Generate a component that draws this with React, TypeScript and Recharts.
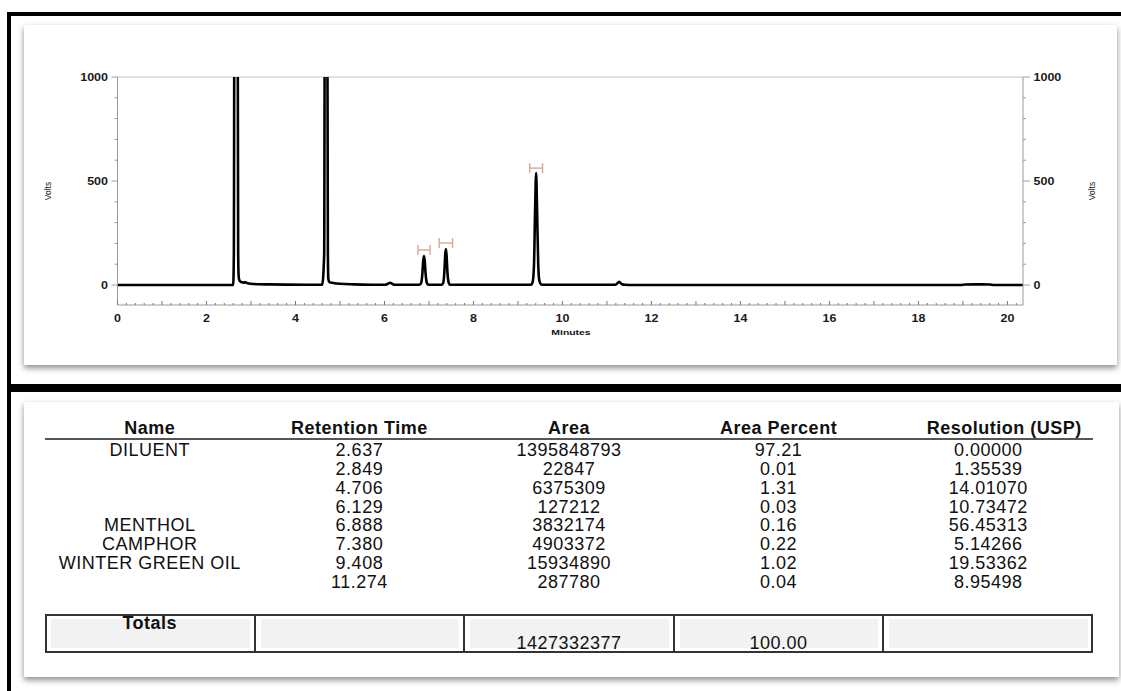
import React from 'react';
import { ComposedChart, Line, XAxis, YAxis, Scatter, ErrorBar, ReferenceLine } from 'recharts';

// Chromatogram trace (minutes, volts)
const traceTime = [
  0, 2.6, 2.615, 2.628, 2.7, 2.712, 2.722, 2.735, 2.76, 2.8, 2.84, 2.87, 2.89, 2.93, 3.0, 3.15, 3.4, 3.8, 4.3,
  4.6, 4.645, 4.66, 4.715, 4.728, 4.738, 4.76, 4.85, 5.0, 5.3, 5.7,
  6.0, 6.06, 6.1, 6.13, 6.16, 6.2, 6.26,
  6.78, 6.82, 6.85, 6.872, 6.888, 6.905, 6.925, 6.95, 6.98,
  7.28, 7.32, 7.345, 7.365, 7.38, 7.395, 7.415, 7.44, 7.47,
  9.29, 9.33, 9.36, 9.385, 9.408, 9.43, 9.455, 9.48, 9.52, 9.56,
  11.18, 11.22, 11.25, 11.274, 11.3, 11.34, 11.4, 11.6,
  18.95, 19.05, 19.3, 19.6, 19.7, 20.35,
];
const traceVolts = [
  0, 0, 150, 1400, 1400, 150, 45, 25, 17, 13, 11, 14, 12, 8, 6, 4, 3, 2, 1.5,
  1.5, 150, 1400, 1400, 150, 30, 14, 10, 6, 3, 1.5,
  1.5, 4, 9, 11, 8, 3, 1,
  1, 8, 50, 118, 139, 115, 52, 12, 2,
  1, 10, 60, 145, 173, 143, 62, 14, 2,
  1, 14, 95, 360, 538, 355, 100, 22, 3, 1,
  1, 5, 12, 15, 11, 4, 1.5, 0.5,
  0.5, 2.5, 3, 2.5, 0.5, 0.5,
];

// Integration markers above the named peaks
const markTime = [6.888, 7.38, 9.408];
const markVolts = [168, 202, 562];
const markHalfWidth = [0.135, 0.15, 0.145];

// Axis ticks
const xTickLabels = [0, 2, 4, 6, 8, 10, 12, 14, 16, 18, 20];
const yTickLabels = [0, 500, 1000];
const yMinorTicks = [0, 100, 200, 300, 400, 500, 600, 700, 800, 900, 1000];
const xMinorTicks = Array.from({ length: 102 }, (_, i) => Math.round(i * 2) / 10);

// Peak table
const tableHeaders = ['Name', 'Retention Time', 'Area', 'Area Percent', 'Resolution (USP)'];
const peakNames = ['DILUENT', '', '', '', 'MENTHOL', 'CAMPHOR', 'WINTER GREEN OIL', ''];
const retentionTimes = ['2.637', '2.849', '4.706', '6.129', '6.888', '7.380', '9.408', '11.274'];
const areas = ['1395848793', '22847', '6375309', '127212', '3832174', '4903372', '15934890', '287780'];
const areaPercents = ['97.21', '0.01', '1.31', '0.03', '0.16', '0.22', '1.02', '0.04'];
const resolutions = ['0.00000', '1.35539', '14.01070', '10.73472', '56.45313', '5.14266', '19.53362', '8.95498'];
const totalsRow = ['Totals', '', '1427332377', '100.00', ''];

const traceData = traceTime.map((t, i) => ({ t, v: traceVolts[i] }));
const markData = markTime.map((t, i) => ({ t, v: markVolts[i], err: markHalfWidth[i] }));

const FONT = '"Liberation Sans", Arial, sans-serif';
const AXIS_GRAY = '#9a9a9a';

const XTick = (props: any) => {
  const { x, y, payload } = props;
  const v = payload.value as number;
  const isInt = Math.abs(v - Math.round(v)) < 1e-6;
  const labeled = isInt && xTickLabels.includes(Math.round(v));
  return (
    <g>
      <line x1={x} x2={x} y1={y} y2={y - (isInt ? 4 : 2)} stroke="#777" strokeWidth={1} />
      {labeled && (
        <text
          transform={`translate(${x},${y + 16.5}) scale(1.25,1)`}
          textAnchor="middle"
          fontFamily={FONT}
          fontSize={10}
          fontWeight="bold"
          fill="#1a1a1a"
        >
          {v}
        </text>
      )}
    </g>
  );
};

const LeftTick = (props: any) => {
  const { x, y, payload } = props;
  const v = payload.value as number;
  const major = yTickLabels.includes(v);
  return (
    <g>
      <line x1={x} x2={x - (major ? 6 : 3)} y1={y} y2={y} stroke={AXIS_GRAY} strokeWidth={1} />
      {major && (
        <text
          transform={`translate(${x - 9.5},${y + 3.6}) scale(1.25,1)`}
          textAnchor="end"
          fontFamily={FONT}
          fontSize={10}
          fontWeight="bold"
          fill="#1a1a1a"
        >
          {v}
        </text>
      )}
    </g>
  );
};

const RightTick = (props: any) => {
  const { x, y, payload } = props;
  const v = payload.value as number;
  const major = yTickLabels.includes(v);
  return (
    <g>
      <line x1={x} x2={x + (major ? 7 : 3)} y1={y} y2={y} stroke={AXIS_GRAY} strokeWidth={1} />
      {major && (
        <text
          transform={`translate(${x + 10.5},${y + 3.6}) scale(1.25,1)`}
          textAnchor="start"
          fontFamily={FONT}
          fontSize={10}
          fontWeight="bold"
          fill="#1a1a1a"
        >
          {v}
        </text>
      )}
    </g>
  );
};

const COL_LEFT = 45;
const COL_W = 209.6;
const ROW0 = 450.3;
const ROW_STEP = 18.75;
const BOX_H = 18.5;

const cellText = (text: string, col: number, centerY: number, bold: boolean, key: string, shift = 0) => (
  <div
    key={key}
    style={{
      position: 'absolute',
      left: COL_LEFT + col * COL_W + shift,
      top: centerY - 8.9,
      width: COL_W,
      height: BOX_H,
      lineHeight: BOX_H + 'px',
      textAlign: 'center',
      fontFamily: FONT,
      fontSize: 18,
      letterSpacing: 0.5,
      fontWeight: bold ? 'bold' : 'normal',
      color: '#111',
      whiteSpace: 'nowrap',
      overflow: 'visible',
    }}
  >
    {text}
  </div>
);

export default function App() {
  const columns = [peakNames, retentionTimes, areas, areaPercents, resolutions];
  return (
    <div style={{ position: 'absolute', left: 0, top: 0, width: 1121, height: 691, background: '#fff', overflow: 'hidden' }}>
      {/* black frame */}
      <div style={{ position: 'absolute', left: 7, top: 12, width: 1114, height: 4, background: '#000' }} />
      <div style={{ position: 'absolute', left: 7, top: 12, width: 4, height: 679, background: '#000' }} />
      <div style={{ position: 'absolute', left: 7, top: 384, width: 1114, height: 8, background: '#000' }} />

      {/* panels */}
      <div style={{ position: 'absolute', left: 24, top: 25, width: 1093, height: 340, background: '#fff', boxShadow: '0 3px 6px rgba(0,0,0,0.45)' }} />
      <div style={{ position: 'absolute', left: 24, top: 402, width: 1095, height: 275, background: '#fff', boxShadow: '0 3px 6px rgba(0,0,0,0.45)' }} />

      {/* chart */}
      <div style={{ position: 'absolute', left: 0, top: 0 }}>
        <ComposedChart
          width={1121}
          height={380}
          data={traceData}
          margin={{ top: 77, right: 38, bottom: 45, left: 57.5 }}
        >
          <XAxis
            dataKey="t"
            type="number"
            domain={[0, 20.35]}
            allowDataOverflow
            ticks={xMinorTicks}
            interval={0}
            tickSize={0}
            tickMargin={0}
            tick={<XTick />}
            axisLine={{ stroke: AXIS_GRAY, strokeWidth: 1 }}
            tickLine={false}
            height={30}
          />
          <YAxis
            yAxisId="left"
            type="number"
            domain={[-96, 1000]}
            allowDataOverflow
            ticks={yMinorTicks}
            interval={0}
            tickSize={0}
            tickMargin={0}
            tick={<LeftTick />}
            tickLine={false}
            axisLine={{ stroke: AXIS_GRAY, strokeWidth: 1 }}
            width={60}
          />
          <YAxis
            yAxisId="right"
            orientation="right"
            type="number"
            domain={[-96, 1000]}
            allowDataOverflow
            ticks={yMinorTicks}
            interval={0}
            tickSize={0}
            tickMargin={0}
            tick={<RightTick />}
            tickLine={false}
            axisLine={{ stroke: AXIS_GRAY, strokeWidth: 1 }}
            width={60}
          />
          <ReferenceLine yAxisId="left" y={1000} stroke="#c4c4c4" strokeWidth={1} />
          <Line
            yAxisId="left"
            dataKey="v"
            type="monotone"
            stroke="#000"
            strokeWidth={2.6}
            dot={false}
            activeDot={false}
            isAnimationActive={false}
          />
          <Scatter
            yAxisId="left"
            data={markData}
            dataKey="v"
            isAnimationActive={false}
            shape={() => <g />}
          >
            <ErrorBar dataKey="err" direction="x" width={5} stroke="#d8a797" strokeWidth={1.4} isAnimationActive={false} />
          </Scatter>
        </ComposedChart>
      </div>

      {/* axis titles */}
      <div style={{ position: 'absolute', left: 48, top: 191, transform: 'translate(-50%,-50%) rotate(-90deg)', fontFamily: FONT, fontSize: 8.5, color: '#111', whiteSpace: 'nowrap' }}>Volts</div>
      <div style={{ position: 'absolute', left: 1092, top: 191, transform: 'translate(-50%,-50%) rotate(-90deg)', fontFamily: FONT, fontSize: 8.5, color: '#111', whiteSpace: 'nowrap' }}>Volts</div>
      <div style={{ position: 'absolute', left: 571, top: 332, transform: 'translate(-50%,-50%) scaleX(1.3)', fontFamily: FONT, fontSize: 8, fontWeight: 'bold', color: '#111', whiteSpace: 'nowrap' }}>Minutes</div>

      {/* table header */}
      {tableHeaders.map((h, i) => cellText(h, i, 428, true, 'h' + i, i === 4 ? 16 : 0))}
      <div style={{ position: 'absolute', left: 45, top: 437.5, width: 1048, height: 2, background: '#555' }} />

      {/* table rows */}
      {columns.map((col, c) => col.map((val, r) => (val ? cellText(val, c, ROW0 + r * ROW_STEP, false, `c${c}r${r}`) : null)))}

      {/* totals box */}
      <div style={{ position: 'absolute', left: 45, top: 614, width: 1048, height: 39, boxSizing: 'border-box', border: '2px solid #333' }} />
      {totalsRow.map((_, i) => (
        <div
          key={'tb' + i}
          style={{
            position: 'absolute',
            left: COL_LEFT + i * COL_W + 6,
            top: 619,
            width: COL_W - 11,
            height: 29,
            background: '#f2f2f2',
          }}
        />
      ))}
      {[1, 2, 3, 4].map((i) => (
        <div key={'dv' + i} style={{ position: 'absolute', left: COL_LEFT + i * COL_W - 1, top: 614, width: 2, height: 39, background: '#333' }} />
      ))}
      {totalsRow.map((val, i) => (val ? cellText(val, i, i === 0 ? 623 : 643, i === 0, 't' + i) : null))}
    </div>
  );
}
